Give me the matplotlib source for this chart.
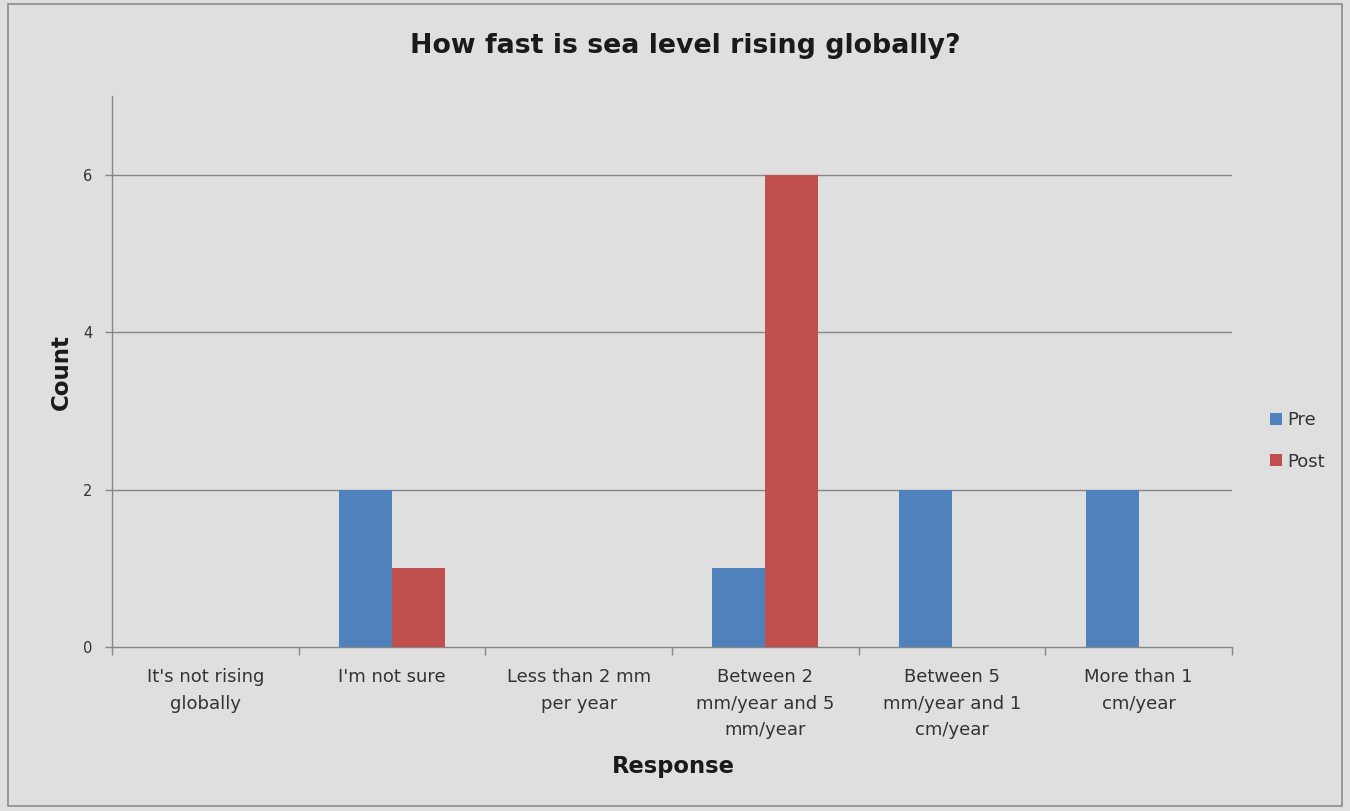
import matplotlib
matplotlib.use("Agg")
import matplotlib.pyplot as plt
from matplotlib.patches import Rectangle
import numpy as np

plt.rcParams['font.family'] = ['DejaVu Sans']

categories = [
    "It's not rising\nglobally",
    "I'm not sure",
    "Less than 2 mm\nper year",
    "Between 2\nmm/year and 5\nmm/year",
    "Between 5\nmm/year and 1\ncm/year",
    "More than 1\ncm/year",
]
pre = [0, 2, 0, 1, 2, 2]
post = [0, 1, 0, 6, 0, 0]
series_names = ["Pre", "Post"]
colors = ["#4F81BD", "#C0504D"]
yticks = [0, 2, 4, 6]

bg = "#DFDFDF"
axis_col = "#868686"
text_col = "#1A1A1A"

fig = plt.figure(figsize=(13.5, 8.11), dpi=100, facecolor=bg)
fig.patches.append(Rectangle((8 / 1350, 1 - 806 / 811), 1334 / 1350, 802 / 811,
                             transform=fig.transFigure, fill=False,
                             edgecolor="#8C8C8C", linewidth=1.2))

ax = fig.add_axes([112 / 1350, 1 - 647 / 811, 1120 / 1350, 551 / 811])
ax.set_facecolor(bg)

x = np.arange(len(categories))
w = 0.284
ax.bar(x - w / 2, pre, width=w, color=colors[0], label=series_names[0], zorder=3)
ax.bar(x + w / 2, post, width=w, color=colors[1], label=series_names[1], zorder=3)

ax.set_xlim(-0.5, len(categories) - 0.5)
ax.set_ylim(0, 7)
ax.set_yticks(yticks)
ax.set_yticklabels([str(v) for v in yticks], fontsize=10.5, color="#333333")
for v in yticks[1:]:
    ax.axhline(v, color=axis_col, linewidth=1, zorder=1)

ax.set_xticks(x)
ax.set_xticklabels(categories, fontsize=13, color="#333333", linespacing=1.62,
                   va="top")
ax.tick_params(axis="x", which="major", length=0, pad=15)
ax.set_xticks(np.arange(-0.5, len(categories), 1.0), minor=True)
ax.tick_params(axis="x", which="minor", length=6, color=axis_col, width=1)
ax.tick_params(axis="y", length=5, color=axis_col, width=1, pad=9)

for side in ["top", "right"]:
    ax.spines[side].set_visible(False)
for side in ["left", "bottom"]:
    ax.spines[side].set_color(axis_col)
    ax.spines[side].set_linewidth(1)

fig.text(685 / 1350, 1 - 46 / 811, "How fast is sea level rising globally?",
         ha="center", va="center", fontsize=19.3, fontweight="bold", color=text_col)
fig.text(61 / 1350, 1 - 372 / 811, "Count", rotation=90, ha="center", va="center",
         fontsize=16.5, fontweight="bold", color=text_col)
fig.text(673 / 1350, 1 - 766 / 811, "Response", ha="center", va="center",
         fontsize=16.3, fontweight="bold", color=text_col)

leg = ax.legend(loc="center left", bbox_to_anchor=(1270 / 1350, 1 - 441 / 811),
                bbox_transform=fig.transFigure, frameon=False, fontsize=13,
                handlelength=0.65, handleheight=0.65, handletextpad=0.3,
                labelspacing=1.3, borderaxespad=0, borderpad=0)
for t in leg.get_texts():
    t.set_color("#333333")

fig.savefig("out.png", dpi=100, facecolor=bg)
